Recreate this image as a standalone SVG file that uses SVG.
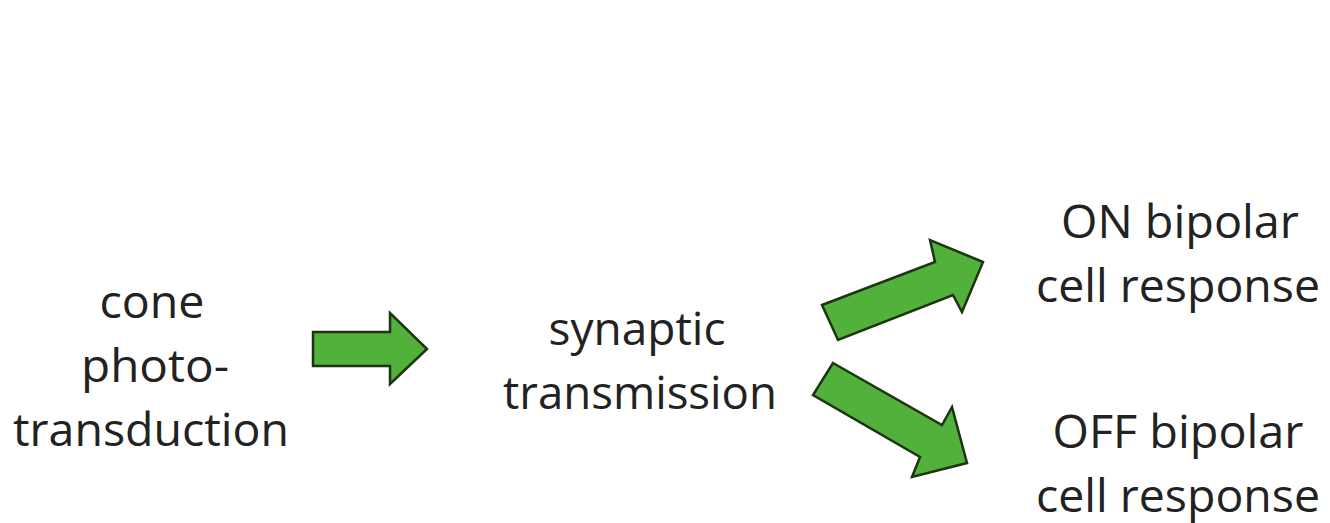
<svg xmlns="http://www.w3.org/2000/svg" width="1330" height="523" viewBox="0 0 1330 523">
  <style>
    .lbl { font-family: "Open Sans", "Liberation Sans", sans-serif; font-size: 45px; fill: #222222; text-anchor: middle; }
    .arrow { fill: #52b13a; stroke: #1d3312; stroke-width: 2.5; stroke-linejoin: miter; }
  </style>
  <rect x="0" y="0" width="1330" height="523" fill="#ffffff"/>

  <!-- block arrows between the stages -->
  <g id="connectors">
    <polygon class="arrow" points="313,332 390,332 390,313 427,349 390,384 390,366 313,366"/>
    <polygon class="arrow" points="822,305 935,262 930,240 983,262 962,312 953,295 838,340"/>
    <polygon class="arrow" points="833,363 942,425 952,407 967,463 912,477 920,457 813,395"/>
  </g>

  <g id="node-cone">
    <text class="lbl" x="152" y="318" textLength="105" lengthAdjust="spacingAndGlyphs">cone</text>
    <text class="lbl" x="155" y="382" textLength="148" lengthAdjust="spacingAndGlyphs">photo-</text>
    <text class="lbl" x="151" y="446" textLength="276" lengthAdjust="spacingAndGlyphs">transduction</text>
  </g>

  <g id="node-synaptic">
    <text class="lbl" x="637" y="345" textLength="177" lengthAdjust="spacingAndGlyphs">synaptic</text>
    <text class="lbl" x="640" y="409" textLength="274" lengthAdjust="spacingAndGlyphs">transmission</text>
  </g>

  <g id="node-on">
    <text class="lbl" x="1180" y="238" textLength="238" lengthAdjust="spacingAndGlyphs">ON bipolar</text>
    <text class="lbl" x="1178" y="302" textLength="284" lengthAdjust="spacingAndGlyphs">cell response</text>
  </g>

  <g id="node-off">
    <text class="lbl" x="1178" y="448" textLength="251" lengthAdjust="spacingAndGlyphs">OFF bipolar</text>
    <text class="lbl" x="1178" y="512" textLength="284" lengthAdjust="spacingAndGlyphs">cell response</text>
  </g>
</svg>
